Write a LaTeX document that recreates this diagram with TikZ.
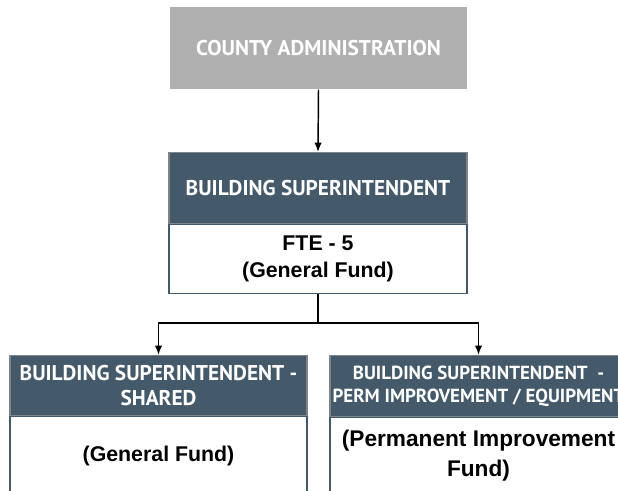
\documentclass[tikz,border=0pt]{standalone}
\usepackage{fontspec}
\setmainfont{Liberation Sans}
\newfontfamily\hdfont{PT Sans}
\usepackage{xcolor}
\usepackage{tikz}
\usetikzlibrary{positioning,arrows.meta}
\definecolor{orgslate}{HTML}{44596A}
\definecolor{orggrey}{HTML}{B0B0B0}
\definecolor{orgedge}{HTML}{7F8488}
\tikzset{
  orgtop/.style={fill=orggrey, draw=none, text=white, font=\hdfont\bfseries\fontsize{16}{19}\selectfont,
    minimum width=222.75pt, minimum height=61.5pt, inner sep=0pt, align=center},
  orghead/.style={fill=orgslate, draw=orgedge, line width=0.8pt, text=white,
    font=\hdfont\bfseries\fontsize{16}{18.75}\selectfont,
    minimum width=222.75pt, inner sep=0pt, align=center},
  orgbody/.style={fill=white, draw=orgslate, line width=0.8pt, text=black,
    font=\bfseries\fontsize{16}{20}\selectfont,
    minimum width=222.75pt, inner sep=0pt, align=center},
  orglink/.style={line width=1.1pt, draw=black},
  orgarrow/.style={orglink, -{Latex[length=7pt,width=5.5pt]}},
}
\begin{document}
\begin{tikzpicture}[x=0.75pt,y=-0.75pt]
\useasboundingbox (0,0) rectangle (618,491);
\clip (0,0) rectangle (618,491);
\node[orgtop, anchor=north] (admin) at (318.5,7) {COUNTY ADMINISTRATION};
\node[orghead, minimum width=223.5pt, minimum height=53.25pt, anchor=north] (supthd) at (318,152) {BUILDING SUPERINTENDENT};
\node[orgbody, minimum width=223.5pt, minimum height=51.75pt, below=0pt of supthd] (suptbody) {FTE - 5\\(General Fund)};
\node[orghead, minimum height=45pt, anchor=north] (sharedhd) at (158.5,355) {BUILDING SUPERINTENDENT -\\SHARED};
\node[orgbody, minimum height=58.5pt, below=0pt of sharedhd] (sharedbody) {(General Fund)};
\node[orghead, minimum height=45.75pt, font=\hdfont\bfseries\fontsize{14.2}{17}\selectfont, anchor=north] (permhd) at (478.5,355) {BUILDING SUPERINTENDENT \ -\\PERM IMPROVEMENT / EQUIPMENT};
\node[orgbody, minimum height=57.75pt, font=\bfseries\fontsize{17}{22.5}\selectfont, below=0pt of permhd] (permbody) {(Permanent Improvement\\Fund)};
\coordinate (bus) at (318,323);
\draw[orgarrow] (admin.south) -- (supthd.north);
\draw[orglink] (suptbody.south) -- (bus);
\draw[orgarrow] (bus) -| (sharedhd.north);
\draw[orgarrow] (bus) -| (permhd.north);
\end{tikzpicture}
\end{document}
